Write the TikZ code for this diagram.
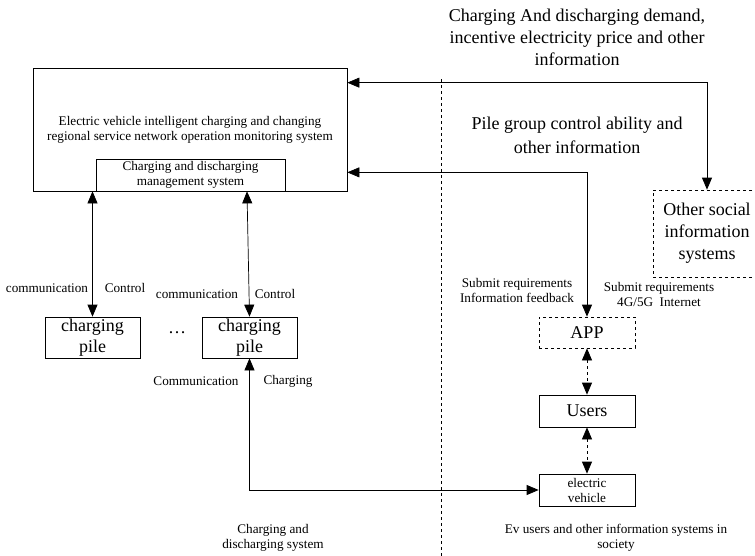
\documentclass[tikz,border=0pt]{standalone}
\usepackage{fontspec}
\setmainfont{Liberation Serif}
\usetikzlibrary{arrows.meta}

\tikzset{
  box/.style={draw,align=center,inner sep=0pt},
  dbox/.style={box,dashed},
  lbl/.style={align=center,inner sep=0pt},
  big/.style={font=\fontsize{18}{22}\selectfont},
  mid/.style={font=\fontsize{13.2}{15}\selectfont}
}

\begin{document}
\begin{tikzpicture}[x=1pt,y=-1pt,>={Triangle[length=12pt,width=10pt]},
                    line width=0.7pt]
  \useasboundingbox (0,0) rectangle (755,555);

  \node[box,mid,minimum width=314,minimum height=123] (mon) at (190,129.5)
    {Electric vehicle intelligent charging and changing\\regional service network operation monitoring system};
  \node[box,mid,minimum width=189,minimum height=32]  (mgmt) at (190.5,175)
    {Charging and discharging\\management system};
  \node[box,big,font=\fontsize{18}{21}\selectfont,minimum width=95,minimum height=41] (pile1) at (92.5,337.5) {charging\\pile};
  \node[box,big,font=\fontsize{18}{21}\selectfont,minimum width=95,minimum height=41] (pile2) at (249.5,337.5) {charging\\pile};
  \node[lbl,big]                                      (dots) at (177,333) {\dots};
  \node[dbox,big,minimum width=108,minimum height=87] (other) at (707,233.5)
    {Other social\\information\\systems};
  \node[dbox,big,minimum width=96,minimum height=31]  (app) at (587,332.5) {APP};
  \node[box,big,minimum width=96,minimum height=32]   (users) at (587,411) {Users};
  \node[box,mid,minimum width=96,minimum height=32]   (ev) at (587,490) {electric\\vehicle};

  \node[lbl,big] (demand) at (577,37)
    {Charging And discharging demand,\\incentive electricity price and other\\information};
  \node[lbl,big,font=\fontsize{18}{24}\selectfont] (ability) at (577,135)
    {Pile group control ability and\\other information};
  \node[lbl,mid] (sub1) at (517,290.5) {Submit requirements\\Information feedback};
  \node[lbl,mid] (sub2) at (659,294.5) {Submit requirements\\4G/5G\ \ Internet};
  \node[lbl,mid] (com1) at (47,288) {communication};
  \node[lbl,mid] (ctl1) at (125,288) {Control};
  \node[lbl,mid] (com2) at (197,294) {communication};
  \node[lbl,mid] (ctl2) at (275,294) {Control};
  \node[lbl,mid] (com3) at (196,381) {Communication};
  \node[lbl,mid] (chg3) at (288,381) {Charging};
  \node[lbl,mid] (leftsys) at (273,538) {Charging and\\discharging system};
  \node[lbl,mid] (rightsys) at (616,538) {Ev users and other information systems in\\society};

  \coordinate (divtop) at (441,79);
  \coordinate (divbot) at (441,560);
  \draw[dashed,line width=0.6pt] (divtop) -- (divbot);

  \draw[<->] ([yshift=-15]mon.north east) -| (other.north);
  \draw[<->] ([yshift=19]mon.south east) -| (app.north);
  \draw[<->] (mon.south -| pile1.north) -- (pile1.north);
  \draw[<->] ([xshift=-2.5]mon.south -| pile2.north) -- (pile2.north);
  \draw[<->] (pile2.south) |- (ev.west);
  \draw[<->,dashed] (app.south) -- (users.north);
  \draw[<->,dashed] (users.south) -- (ev.north);
\end{tikzpicture}
\end{document}
